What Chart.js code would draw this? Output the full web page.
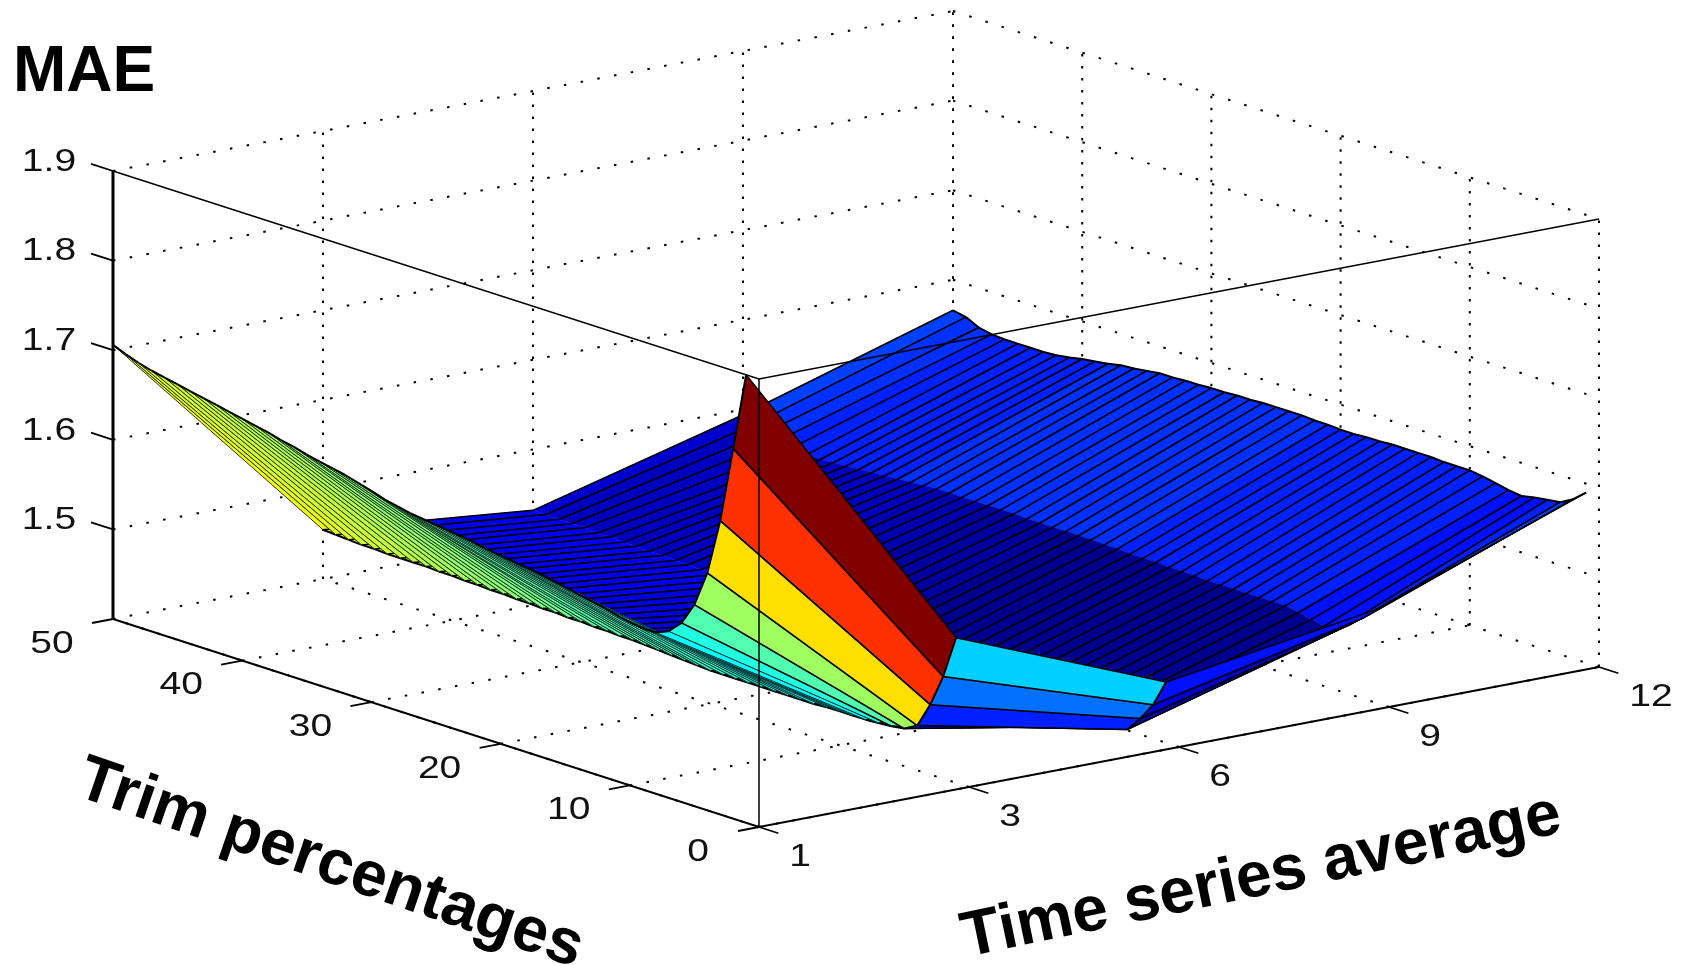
<!DOCTYPE html>
<html>
<head>
<meta charset="utf-8">
<title>MAE surface</title>
<script src="https://cdn.jsdelivr.net/npm/chart.js@4/dist/chart.umd.js"></script>
<style>
  html, body { margin: 0; padding: 0; background: #fff; }
  canvas { display: block; }
</style>
</head>
<body>
<canvas id="chart" width="1690" height="965"></canvas>
<script>
// Categories and tick labels
const averageLabels = ['1', '3', '6', '9', '12'];
const trimTicks = [0, 10, 20, 30, 40, 50];
const maeTicks = [1.5, 1.6, 1.7, 1.8, 1.9];

// Trim percentage of each row of the surface
const trimRows = [1, 2, 3, 4, 5, 6, 7, 8, 9, 10, 11, 12, 13, 14, 15, 16, 17, 18, 19, 20, 21, 22, 23, 24, 25,
  26, 27, 28, 29, 30, 31, 32, 33, 34, 35, 36, 37, 38, 39, 40, 41, 42, 43, 44, 45, 46, 47, 48, 49, 50];

// MAE per trim percentage, one array per time series average
const maeAvg1 = [1.900, 1.813, 1.728, 1.665, 1.625, 1.600, 1.586, 1.580, 1.580, 1.582,
  1.585, 1.589, 1.592, 1.595, 1.598, 1.601, 1.604, 1.606, 1.608, 1.610,
  1.612, 1.615, 1.617, 1.619, 1.621, 1.623, 1.625, 1.628, 1.631, 1.636,
  1.640, 1.644, 1.647, 1.650, 1.653, 1.657, 1.660, 1.664, 1.667, 1.670,
  1.673, 1.676, 1.679, 1.682, 1.685, 1.688, 1.691, 1.695, 1.700, 1.706];
const maeAvg3 = [1.562, 1.514, 1.478, 1.450, 1.442, 1.440, 1.439, 1.438, 1.438, 1.438,
  1.438, 1.437, 1.437, 1.437, 1.437, 1.437, 1.437, 1.437, 1.437, 1.437,
  1.438, 1.439, 1.440, 1.441, 1.442, 1.443, 1.443, 1.444, 1.444, 1.445,
  1.445, 1.446, 1.446, 1.447, 1.447, 1.448, 1.448, 1.449, 1.449, 1.450,
  1.450, 1.451, 1.451, 1.451, 1.451, 1.452, 1.452, 1.453, 1.454, 1.455];
const maeAvg6 = [1.468, 1.438, 1.418, 1.401, 1.400, 1.400, 1.400, 1.400, 1.400, 1.400,
  1.400, 1.400, 1.400, 1.400, 1.400, 1.401, 1.401, 1.401, 1.402, 1.403,
  1.404, 1.405, 1.406, 1.407, 1.408, 1.410, 1.411, 1.412, 1.414, 1.415,
  1.417, 1.419, 1.421, 1.423, 1.424, 1.425, 1.426, 1.427, 1.427, 1.428,
  1.428, 1.429, 1.429, 1.430, 1.430, 1.431, 1.431, 1.431, 1.432, 1.432];
const maeAvg9 = [1.504, 1.490, 1.478, 1.467, 1.467, 1.470, 1.473, 1.476, 1.476, 1.476,
  1.476, 1.476, 1.476, 1.476, 1.477, 1.477, 1.477, 1.478, 1.478, 1.478,
  1.479, 1.479, 1.480, 1.480, 1.480, 1.480, 1.480, 1.480, 1.481, 1.481,
  1.481, 1.481, 1.481, 1.481, 1.481, 1.480, 1.479, 1.478, 1.477, 1.476,
  1.475, 1.474, 1.473, 1.472, 1.473, 1.477, 1.481, 1.485, 1.489, 1.494];
const maeAvg12 = [1.590, 1.578, 1.570, 1.568, 1.566, 1.563, 1.565, 1.568, 1.571, 1.573,
  1.573, 1.573, 1.574, 1.574, 1.574, 1.574, 1.573, 1.573, 1.572, 1.572,
  1.573, 1.573, 1.574, 1.574, 1.574, 1.574, 1.573, 1.573, 1.572, 1.572,
  1.571, 1.571, 1.570, 1.570, 1.568, 1.566, 1.565, 1.562, 1.560, 1.558,
  1.555, 1.553, 1.552, 1.552, 1.552, 1.552, 1.553, 1.556, 1.563, 1.566];
const maeColumns = [maeAvg1, maeAvg3, maeAvg6, maeAvg9, maeAvg12];

const MAE_FLOOR = 1.4;
const MAE_TOP = 1.9;
const lastColumn = averageLabels.length - 1;

// Orthographic view of the box, same numbers as the axes in the picture
const project = (col, trim, mae) => ({
  x: 759 + 210 * col - 12.92 * trim,
  y: 827 - 40 * col - 4.16 * trim - (mae - MAE_FLOOR) * 896
});

// MATLAB style jet colormap with 64 levels, caxis 1.4 to 1.9
const jet = (mae) => {
  const t = Math.min(Math.max((mae - MAE_FLOOR) / (MAE_TOP - MAE_FLOOR), 0), 1);
  const v = (Math.min(Math.floor(t * 64), 63) + 1) / 64;
  const clamp = (c) => Math.round(255 * Math.min(Math.max(c, 0), 1));
  const r = clamp(Math.min(4 * v - 1.5, 4.5 - 4 * v));
  const g = clamp(Math.min(4 * v - 0.5, 3.5 - 4 * v));
  const b = clamp(Math.min(4 * v + 0.5, 2.5 - 4 * v));
  return `rgb(${r},${g},${b})`;
};

const datasets = [];

const addLine = (points, width, dash) => {
  datasets.push({
    data: points,
    showLine: true,
    fill: false,
    borderColor: '#000',
    borderWidth: width,
    borderDash: dash || [],
    pointRadius: 0,
    tension: 0
  });
};

const addFace = (points, color) => {
  datasets.push({
    data: points,
    showLine: true,
    fill: 'shape',
    backgroundColor: color,
    borderColor: color,
    borderWidth: 0.6,
    pointRadius: 0,
    tension: 0
  });
};

// Dotted walls and floor behind the surface
const DOT_FLAT = [2.5, 14.5];
const DOT_UP = [2.5, 9.5];
trimTicks.forEach((t) => {
  addLine([project(0, t, MAE_FLOOR), project(lastColumn, t, MAE_FLOOR)], 2, DOT_FLAT);
  addLine([project(lastColumn, t, MAE_FLOOR), project(lastColumn, t, MAE_TOP)], 2, DOT_UP);
});
averageLabels.forEach((label, col) => {
  addLine([project(col, 0, MAE_FLOOR), project(col, 50, MAE_FLOOR)], 2, DOT_FLAT);
  addLine([project(col, 50, MAE_FLOOR), project(col, 50, MAE_TOP)], 2, DOT_UP);
});
maeTicks.forEach((m) => {
  addLine([project(0, 50, m), project(lastColumn, 50, m)], 2, DOT_FLAT);
  addLine([project(lastColumn, 50, m), project(lastColumn, 0, m)], 2, DOT_FLAT);
});

// Row line of the mesh; the strip next to the first column is thin so its colour still shows
const addRowLine = (trim, index) => {
  const points = maeColumns.map((values, col) => project(col, trim, values[index]));
  addLine(points.slice(1), 1.5);
  addLine(points.slice(0, 2), index < 6 ? 1.5 : 0.8);
};

// Surface, painted from the far corner to the near one
for (let row = trimRows.length - 2; row >= 0; row--) {
  const near = trimRows[row];
  const far = trimRows[row + 1];
  for (let col = lastColumn - 1; col >= 0; col--) {
    addFace([
      project(col, near, maeColumns[col][row]),
      project(col + 1, near, maeColumns[col + 1][row]),
      project(col + 1, far, maeColumns[col + 1][row + 1]),
      project(col, far, maeColumns[col][row + 1])
    ], jet(maeColumns[col][row]));
  }
  addRowLine(far, row + 1);
  addRowLine(near, row);
  [0, 1, 4].forEach((col) => {
    addLine([
      project(col, near, maeColumns[col][row]),
      project(col, far, maeColumns[col][row + 1])
    ], 2);
  });
  if (row < 3) {
    addLine([
      project(2, near, maeAvg6[row]),
      project(2, far, maeAvg6[row + 1])
    ], 2);
  }
}

// Solid box edges and tick marks in front of the surface
addLine([project(0, 50, MAE_TOP), project(0, 0, MAE_TOP), project(lastColumn, 0, MAE_TOP)], 1.5);
addLine([project(0, 0, MAE_FLOOR), project(0, 0, MAE_TOP)], 1.5);
addLine([project(0, 50, MAE_FLOOR), project(0, 50, MAE_TOP)], 3);
addLine([project(0, 50, MAE_FLOOR), project(0, 0, MAE_FLOOR), project(lastColumn, 0, MAE_FLOOR)], 2);
maeTicks.forEach((m) => {
  addLine([project(0, 50, m), project(0, 51.7, m)], 1.8);
});
trimTicks.forEach((t) => {
  addLine([project(0, t, MAE_FLOOR), project(-0.1, t, MAE_FLOOR)], 1.8);
});
averageLabels.forEach((label, col) => {
  addLine([project(col, 0, MAE_FLOOR), project(col, -1.5, MAE_FLOOR)], 1.8);
});

// Tick labels and axis titles, placed from the same projection
const textPlugin = {
  id: 'axisText',
  afterDraw(chart) {
    const { ctx, scales } = chart;
    const px = (p) => ({ x: scales.x.getPixelForValue(p.x), y: scales.y.getPixelForValue(p.y) });
    const tickText = (text, p, dx, dy) => {
      const at = px(p);
      ctx.save();
      ctx.translate(at.x + dx, at.y + dy);
      ctx.scale(1.22, 1);
      ctx.font = '32px "Liberation Sans"';
      ctx.fillStyle = '#111';
      ctx.textAlign = 'center';
      ctx.textBaseline = 'middle';
      ctx.fillText(text, 0, 0);
      ctx.restore();
    };
    maeTicks.forEach((m) => tickText(m.toFixed(1), project(0, 50, m), -64, -9));
    trimTicks.forEach((t) => tickText(String(t), project(0, t, MAE_FLOOR), -61, 25));
    averageLabels.forEach((label, col) => tickText(label, project(col, 0, MAE_FLOOR), 41 + (label.length - 1) * 11, 30));

    const title = (text, x, y, angle) => {
      ctx.save();
      ctx.translate(x, y);
      ctx.rotate(angle * Math.PI / 180);
      ctx.font = 'bold 64px "Liberation Sans"';
      ctx.fillStyle = '#000';
      ctx.textAlign = 'left';
      ctx.textBaseline = 'alphabetic';
      ctx.fillText(text, 0, 0);
      ctx.restore();
    };
    title('MAE', 13, 91, 0);
    title('Trim percentages', 74, 795, 19);
    title('Time series average', 966, 957, -11.8);
  }
};

new Chart(document.getElementById('chart'), {
  type: 'scatter',
  // Chart.js paints the first dataset last, so hand them over reversed
  data: { datasets: datasets.reverse() },
  options: {
    responsive: false,
    animation: false,
    events: [],
    layout: { padding: 0 },
    plugins: {
      legend: { display: false },
      title: { display: false },
      tooltip: { enabled: false }
    },
    scales: {
      x: { type: 'linear', min: 0, max: 1690, display: false },
      y: { type: 'linear', min: 0, max: 965, reverse: true, display: false }
    }
  },
  plugins: [textPlugin]
});
</script>
</body>
</html>
